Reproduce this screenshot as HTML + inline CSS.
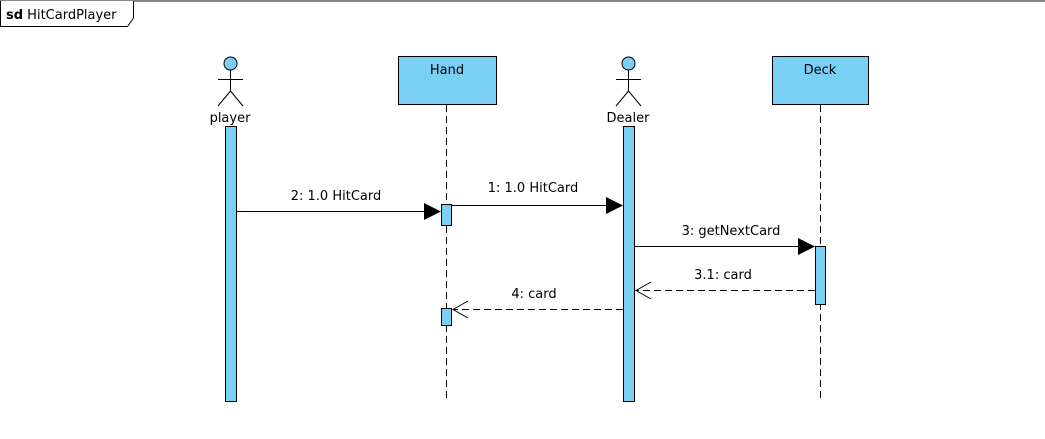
<!DOCTYPE html>
<html><head><style>html,body{margin:0;padding:0;background:#fff;width:1045px;height:439px;overflow:hidden}</style></head>
<body>
<svg width="1045" height="439" xmlns="http://www.w3.org/2000/svg" font-family="DejaVu Sans, sans-serif" font-size="13">
<line x1="0" y1="1" x2="1045" y2="1" stroke="#808890" stroke-width="2"/>
<path d="M0.5,1 V26.5 H127.5 L133.5,18 V1" fill="#fff" stroke="#000" stroke-width="1"/>
<text x="6" y="19" font-size="13"><tspan font-weight="bold">sd</tspan> HitCardPlayer</text>

<g stroke="#000" stroke-width="1" fill="none">
<circle cx="230.5" cy="63.5" r="6.5" fill="#7acff5"/>
<line x1="230.5" y1="70" x2="230.5" y2="91"/>
<line x1="218" y1="79.5" x2="243" y2="79.5"/>
<line x1="230.5" y1="91" x2="218" y2="106"/>
<line x1="230.5" y1="91" x2="243" y2="106"/>
<circle cx="628.5" cy="63.5" r="6.5" fill="#7acff5"/>
<line x1="628.5" y1="70" x2="628.5" y2="91"/>
<line x1="616" y1="79.5" x2="641" y2="79.5"/>
<line x1="628.5" y1="91" x2="616" y2="106"/>
<line x1="628.5" y1="91" x2="641" y2="106"/>
<rect x="398.5" y="56.5" width="98" height="48" fill="#7acff5"/>
<rect x="772.5" y="56.5" width="96" height="48" fill="#7acff5"/>
<line x1="446.5" y1="105" x2="446.5" y2="401" stroke-dasharray="7,4"/>
<line x1="820.5" y1="105" x2="820.5" y2="401" stroke-dasharray="7,4"/>
<rect x="225.5" y="126.5" width="11" height="275" fill="#7acff5"/>
<rect x="623.5" y="126.5" width="11" height="275" fill="#7acff5"/>
<rect x="441.5" y="204.5" width="10" height="21" fill="#7acff5"/>
<rect x="441.5" y="308.5" width="10" height="17" fill="#7acff5"/>
<rect x="815.5" y="246.5" width="10" height="58" fill="#7acff5"/>
<line x1="237" y1="211.5" x2="425" y2="211.5"/>
<line x1="452" y1="205.5" x2="607" y2="205.5"/>
<line x1="635" y1="246.5" x2="799" y2="246.5"/>
<line x1="815" y1="290.5" x2="636" y2="290.5" stroke-dasharray="7,4"/>
<line x1="623" y1="309.5" x2="453" y2="309.5" stroke-dasharray="7,4"/>
<polyline points="651,282 636,290.5 651,299"/>
<polyline points="468,301 453,309.5 468,318"/>
</g>
<g fill="#000">
<polygon points="424,203 441,211.5 424,220"/>
<polygon points="606,197 623,205.5 606,214"/>
<polygon points="798,238 815,246.5 798,255"/>
</g>
<g text-anchor="middle" font-size="13" fill="#000">
<text x="447" y="74">Hand</text>
<text x="820" y="74">Deck</text>
<text x="230" y="122">player</text>
<text x="628" y="122">Dealer</text>
<text x="336" y="200">2: 1.0 HitCard</text>
<text x="533" y="192">1: 1.0 HitCard</text>
<text x="731" y="235">3: getNextCard</text>
<text x="723" y="279">3.1: card</text>
<text x="534" y="298">4: card</text>
</g>
</svg>
</body></html>
